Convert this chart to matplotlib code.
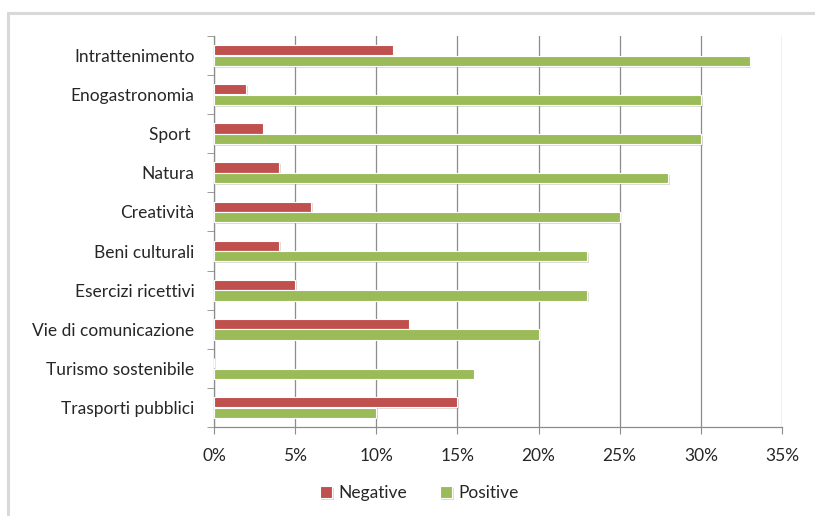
import matplotlib
matplotlib.use("Agg")
import matplotlib.pyplot as plt
from matplotlib.patches import Rectangle
import matplotlib.patheffects as pe
import numpy as np

categories = ["Intrattenimento", "Enogastronomia", "Sport ", "Natura", "Creatività",
              "Beni culturali", "Esercizi ricettivi", "Vie di comunicazione",
              "Turismo sostenibile", "Trasporti pubblici"]
negative = [11, 2, 3, 4, 6, 4, 5, 12, 0, 15]
positive = [33, 30, 30, 28, 25, 23, 23, 20, 16, 10]
xticks = [0, 5, 10, 15, 20, 25, 30, 35]
xticklabels = ["0%", "5%", "10%", "15%", "20%", "25%", "30%", "35%"]

RED = "#C0504D"
GREEN = "#9BBB59"
GRID = "#8C8C8C"
TXT = "#262626"
FS = 12.5

plt.rcParams['font.family'] = ['Lato', 'DejaVu Sans']

fig = plt.figure(figsize=(8.15, 5.16), dpi=100)
fig.patch.set_facecolor("white")
# outer chart frame
fig.add_artist(Rectangle((8/815, -0.1), 1.2, (516-13)/516 + 0.1, transform=fig.transFigure,
                         fill=False, edgecolor="#D9D9D9", linewidth=2.2))

ax = fig.add_axes([214/815, (516-427)/516, (782-214)/815, (427-36)/516])
n = len(categories)
y = np.arange(n)[::-1]
h = 0.26
shadow = [pe.SimplePatchShadow(offset=(1.2, -1.2), shadow_rgbFace="#9a9a9a", alpha=0.35), pe.Normal()]
ax.barh(y + 0.135, negative, height=h, color=RED, edgecolor="white", linewidth=0.8,
        label="Negative", zorder=3, path_effects=shadow)
ax.barh(y - 0.135, positive, height=h, color=GREEN, edgecolor="white", linewidth=0.8,
        label="Positive", zorder=3, path_effects=shadow)

ax.set_xlim(0, 35)
ax.set_ylim(-0.5, n - 0.5)
ax.set_xticks(xticks)
ax.set_xticklabels(xticklabels, fontsize=FS, color=TXT)
ax.set_yticks(y)
ax.set_yticklabels(categories, fontsize=FS, color=TXT)
ax.set_yticks(np.arange(-0.5, n, 1.0), minor=True)
ax.tick_params(axis="y", which="major", length=0, pad=14)
ax.tick_params(axis="y", which="minor", length=5, color=GRID, direction="out")
ax.tick_params(axis="x", which="major", length=5, color=GRID, pad=10)
ax.grid(axis="x", color=GRID, linewidth=0.9, zorder=0)
for s in ["top", "right"]:
    ax.spines[s].set_visible(False)
for s in ["left", "bottom"]:
    ax.spines[s].set_color(GRID)
    ax.spines[s].set_linewidth(0.9)

leg = ax.legend(loc="center", bbox_to_anchor=((419 - 214) / (782 - 214), -(493 - 427) / (427 - 36)),
                ncol=2, frameon=False, fontsize=FS, handlelength=0.7, handleheight=0.7,
                handletextpad=0.35, columnspacing=1.9)
for t in leg.get_texts():
    t.set_color(TXT)

fig.savefig("out.png", dpi=100, facecolor="white")
